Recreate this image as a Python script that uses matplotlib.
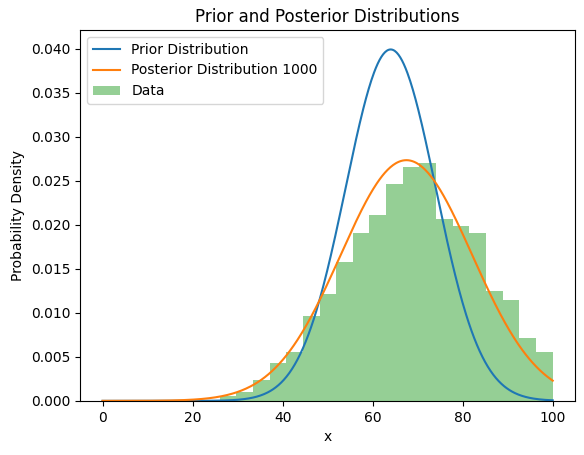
import numpy as np
import matplotlib
matplotlib.use("Agg")
import matplotlib.pyplot as plt

bin_edges = [26, 29.7, 33.4, 37.1, 40.8, 44.5, 48.2, 51.9, 55.6, 59.3, 63, 66.7,
             70.4, 74.1, 77.8, 81.5, 85.2, 88.9, 92.6, 96.3, 100]
bin_heights = [0.0006, 0.0010, 0.0024, 0.0043, 0.0056, 0.0096, 0.0121, 0.0158,
               0.0190, 0.0211, 0.0246, 0.0265, 0.0270, 0.0206, 0.0198, 0.0191,
               0.0125, 0.0114, 0.0071, 0.0056]
prior_mu, prior_sigma = 64.0, 10.0
post_mu, post_sigma = 67.5, 14.6

def pdf(x, mu, s):
    return np.exp(-0.5 * ((x - mu) / s) ** 2) / (s * np.sqrt(2 * np.pi))

x = np.linspace(0, 100, 500)
fig, ax = plt.subplots(figsize=(5.84, 4.55), dpi=100)
ax.plot(x, pdf(x, prior_mu, prior_sigma), color="#1f77b4", label="Prior Distribution")
ax.plot(x, pdf(x, post_mu, post_sigma), color="#ff7f0e", label="Posterior Distribution 1000")
edges = np.array(bin_edges)
ax.bar(edges[:-1], bin_heights, width=np.diff(edges), align="edge",
       color="#2ca02c", alpha=0.5, label="Data")
ax.set_ylim(0, 0.0421)
ax.set_title("Prior and Posterior Distributions")
ax.set_xlabel("x")
ax.set_ylabel("Probability Density")
ax.legend(loc="upper left")
fig.subplots_adjust(left=0.137, right=0.985, top=0.934, bottom=0.119)
fig.savefig("out.png")
